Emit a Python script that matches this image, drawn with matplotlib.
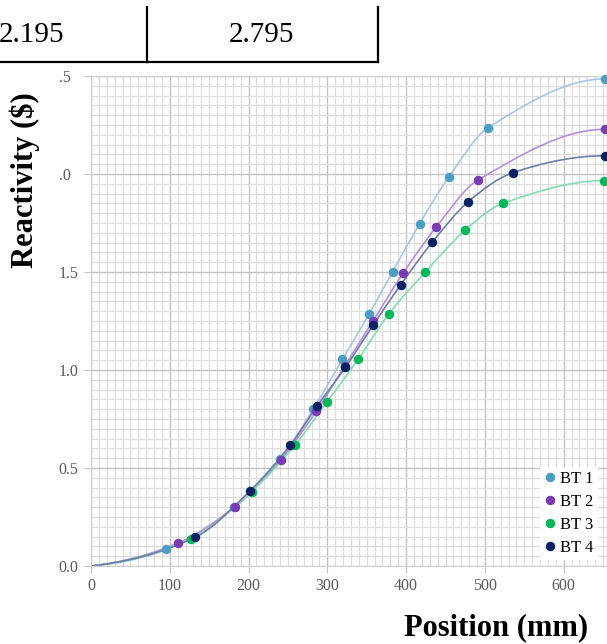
import numpy as np
import matplotlib
matplotlib.use("Agg")
import matplotlib.pyplot as plt
from matplotlib.path import Path
from matplotlib.patches import PathPatch
from matplotlib.lines import Line2D
from matplotlib.ticker import MultipleLocator, FixedLocator, FixedFormatter

plt.rcParams["font.family"] = ["Liberation Serif", "DejaVu Serif"]

# values
SERIES = ["BT 1", "BT 2", "BT 3", "BT 4"]

BT1_POS = [95, 182, 240, 282, 319, 353, 383, 417, 454, 504, 652]
BT1_RHO = [0.085, 0.300, 0.545, 0.800, 1.054, 1.286, 1.502, 1.745, 1.983, 2.236, 2.485]

BT2_POS = [110, 183, 241, 286, 322, 358, 396, 438, 491, 652]
BT2_RHO = [0.116, 0.303, 0.543, 0.790, 1.020, 1.250, 1.493, 1.728, 1.969, 2.228]

BT3_POS = [127, 204, 259, 299, 339, 378, 424, 475, 523, 651]
BT3_RHO = [0.139, 0.380, 0.617, 0.835, 1.054, 1.286, 1.498, 1.714, 1.850, 1.966]

BT4_POS = [132, 202, 253, 287, 323, 358, 393, 433, 479, 536, 652]
BT4_RHO = [0.146, 0.384, 0.617, 0.816, 1.014, 1.228, 1.434, 1.651, 1.859, 2.007, 2.093]

TABLE_VALUES = ["2.195", "2.795"]

X_TICKS = [0, 100, 200, 300, 400, 500, 600]
Y_TICKS = [0.0, 0.5, 1.0, 1.5, 2.0, 2.5]
Y_TICK_LABELS = ["0.0", "0.5", "1.0", "1.5", ".0  ", ".5  "]

MARKER_COLORS = ["#4a9fc0", "#7a3bb4", "#00b85a", "#0a2263"]
LINE_COLORS   = ["#a7c6e6", "#b48ed8", "#86dcae", "#6d7ea6"]

W, H = 607, 644


def smooth_path(xs, ys):
    """Cubic Hermite in x drawn as Bezier segments; easy start, flat at the end."""
    x = np.asarray(xs, float)
    y = np.asarray(ys, float)
    n = len(x)
    m = np.zeros(n)
    m[0] = 0.4 * (y[1] - y[0]) / (x[1] - x[0])
    for i in range(1, n - 1):
        m[i] = (y[i + 1] - y[i - 1]) / (x[i + 1] - x[i - 1])
    m[-1] = 0.0
    verts, codes = [(x[0], y[0])], [Path.MOVETO]
    for i in range(n - 1):
        dx = (x[i + 1] - x[i]) / 3.0
        verts += [(x[i] + dx, y[i] + m[i] * dx),
                  (x[i + 1] - dx, y[i + 1] - m[i + 1] * dx),
                  (x[i + 1], y[i + 1])]
        codes += [Path.CURVE4] * 3
    return Path(verts, codes)


fig = plt.figure(figsize=(W / 100, H / 100), dpi=100)

# the bit of table showing above the chart
fig.add_artist(Line2D([0, 378 / W], [1 - 62 / H] * 2, color="black", lw=1.6))
for xp in (147, 378):
    fig.add_artist(Line2D([xp / W] * 2, [1 - 7 / H, 1 - 62 / H], color="black", lw=1.6))
fig.text(32 / W, 1 - 35 / H, TABLE_VALUES[0], ha="center", va="center", fontsize=21)
fig.text(261 / W, 1 - 35 / H, TABLE_VALUES[1], ha="center", va="center", fontsize=21)

ax = fig.add_axes([91 / W, (H - 566) / H, 516 / W, 490 / H])
ax.set_xlim(0, 655)
ax.set_ylim(0, 2.5)

ax.xaxis.set_major_locator(FixedLocator(X_TICKS))
ax.xaxis.set_minor_locator(MultipleLocator(10))
ax.yaxis.set_major_locator(FixedLocator(Y_TICKS))
ax.yaxis.set_major_formatter(FixedFormatter(Y_TICK_LABELS))
ax.yaxis.set_minor_locator(MultipleLocator(0.05))
ax.grid(which="minor", color="#dedede", lw=0.9)
ax.grid(which="major", color="#c2c2c2", lw=1.0)
ax.set_axisbelow(True)
for s in ax.spines.values():
    s.set_color("#cfcfcf")
ax.tick_params(which="major", direction="out", length=5, color="#c2c2c2",
               labelsize=11.5, labelcolor="#595959", pad=4)
ax.tick_params(which="minor", length=0)

data = [(BT1_POS, BT1_RHO), (BT2_POS, BT2_RHO), (BT3_POS, BT3_RHO), (BT4_POS, BT4_RHO)]
for (pos, rho), lc in zip(data, LINE_COLORS):
    path = smooth_path([0] + list(pos), [0.0] + list(rho))
    ax.add_patch(PathPatch(path, facecolor="none", edgecolor=lc, lw=1.2, zorder=2))
for (pos, rho), name, mc in zip(data, SERIES, MARKER_COLORS):
    ax.plot(pos, rho, "o", color=mc, ms=5.8, mec=mc, label=name, zorder=3, clip_on=False)

leg = ax.legend(loc="upper left", bbox_to_anchor=(540 / W, 1 - 467 / H),
                bbox_transform=fig.transFigure, fontsize=12, handlelength=0.7,
                handletextpad=0.25, labelspacing=0.42, borderpad=0.25,
                borderaxespad=0, frameon=True, fancybox=False, framealpha=1)
leg.get_frame().set_edgecolor("none")
leg.get_frame().set_facecolor("white")

fig.text(496 / W, 1 - 628 / H, "Position (mm)", ha="center", va="center",
         fontsize=22, fontweight="bold")
fig.text(25 / W, 1 - 180 / H, "Reactivity ($)", ha="center", va="center",
         rotation=90, fontsize=22, fontweight="bold")

fig.savefig("out.png", dpi=100)
